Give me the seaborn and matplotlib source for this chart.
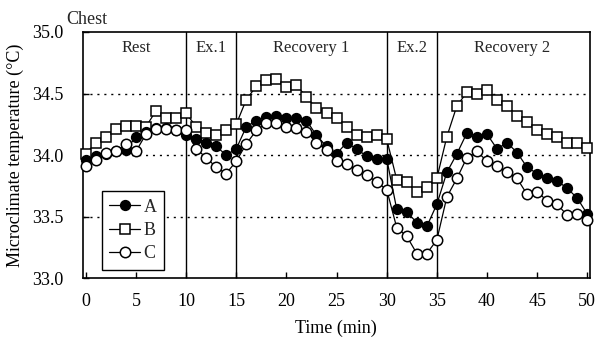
import matplotlib
matplotlib.use("Agg")
import matplotlib.pyplot as plt
import numpy as np
import pandas as pd
import seaborn as sns
from matplotlib.lines import Line2D

# ---------------- data ----------------
time_min = list(range(51))
series_a = [33.96, 33.99, 34.01, 34.03, 34.04, 34.15, 34.19, 34.22, 34.22, 34.20,
            34.16, 34.13, 34.10, 34.07, 34.00, 34.05, 34.23, 34.28, 34.31, 34.32,
            34.30, 34.30, 34.28, 34.16, 34.07, 34.01, 34.10, 34.05, 33.99, 33.97,
            33.97, 33.56, 33.54, 33.45, 33.42, 33.60, 33.86, 34.01, 34.18, 34.15,
            34.17, 34.05, 34.10, 34.02, 33.90, 33.85, 33.81, 33.79, 33.73, 33.65,
            33.52]
series_b = [34.01, 34.10, 34.15, 34.21, 34.24, 34.24, 34.23, 34.36, 34.30, 34.30,
            34.34, 34.23, 34.18, 34.16, 34.20, 34.25, 34.45, 34.56, 34.61, 34.62,
            34.55, 34.57, 34.47, 34.38, 34.34, 34.30, 34.23, 34.16, 34.15, 34.16,
            34.13, 33.80, 33.78, 33.70, 33.74, 33.81, 34.15, 34.40, 34.51, 34.50,
            34.53, 34.45, 34.40, 34.32, 34.27, 34.20, 34.17, 34.15, 34.10, 34.10,
            34.06]
series_c = [33.91, 33.96, 34.02, 34.03, 34.09, 34.03, 34.17, 34.21, 34.21, 34.20,
            34.20, 34.05, 33.98, 33.90, 33.85, 33.95, 34.09, 34.20, 34.26, 34.26,
            34.23, 34.22, 34.19, 34.10, 34.04, 33.95, 33.93, 33.88, 33.84, 33.78,
            33.72, 33.41, 33.34, 33.20, 33.20, 33.31, 33.66, 33.81, 33.98, 34.03,
            33.95, 33.91, 33.86, 33.81, 33.68, 33.70, 33.63, 33.60, 33.51, 33.52,
            33.47]
series_names = ["A", "B", "C"]
phase_bounds = [0, 10, 15, 30, 35, 50]
phase_labels = ["Rest", "Ex.1", "Recovery 1", "Ex.2", "Recovery 2"]
x_ticks = [0, 5, 10, 15, 20, 25, 30, 35, 40, 45, 50]
y_ticks = [33.0, 33.5, 34.0, 34.5, 35.0]
grid_levels = [33.5, 34.0, 34.5]

df = pd.DataFrame({"time": time_min * 3,
                   "temp": series_a + series_b + series_c,
                   "group": sum([[n] * len(time_min) for n in series_names], [])})

# ---------------- style ----------------
sns.set_theme(style="white")
plt.rcParams["font.family"] = ["Liberation Serif", "DejaVu Serif"]

fig = plt.figure(figsize=(6.0, 3.4), dpi=100)
ax = fig.add_axes([0.138, 0.182, 0.845, 0.724])

styles = {
    "A": dict(marker="o", mfc="black", ms=7.0, zorder=4),
    "B": dict(marker="s", mfc="white", ms=7.2, zorder=3),
    "C": dict(marker="o", mfc="white", ms=7.5, zorder=5),
}
draw_order = ["B", "A", "C"]
for name in draw_order:
    st = styles[name]
    sns.lineplot(data=df[df["group"] == name], x="time", y="temp", ax=ax,
                 color="black", lw=0.9, marker=st["marker"], markersize=st["ms"],
                 markerfacecolor=st["mfc"], markeredgecolor="black",
                 markeredgewidth=1.1, zorder=st["zorder"], legend=False,
                 estimator=None, clip_on=False)

# grid lines and phase separators
for g in grid_levels:
    ax.axhline(g, color="black", lw=1.0, ls=(0, (1.5, 3.5)), zorder=1)
for b in phase_bounds[1:-1]:
    ax.axvline(b, color="black", lw=1.0, zorder=2)
for lo, hi, lab in zip(phase_bounds[:-1], phase_bounds[1:], phase_labels):
    ax.text((lo + hi) / 2, 34.87, lab, ha="center", va="center", fontsize=12)

ax.set_xlim(-0.3, 50.25)
ax.set_ylim(33.0, 35.0)
ax.set_xticks(x_ticks)
ax.set_yticks(y_ticks)
ax.set_yticklabels([f"{v:.1f}" for v in y_ticks])
ax.tick_params(axis="x", direction="in", length=4, width=1, pad=11,
               labelsize=13, colors="black", bottom=True)
ax.tick_params(axis="y", direction="in", length=4, width=1, pad=14,
               labelsize=13, colors="black", left=True)
for sp in ax.spines.values():
    sp.set_color("black")
    sp.set_linewidth(1.2)
    sp.set_visible(True)

ax.set_xlabel("Time (min)", fontsize=13, labelpad=7, color="black")
ax.set_ylabel("Microclimate temperature (°C)", fontsize=13, labelpad=6,
              color="black")
fig.text(0.11, 0.918, "Chest", fontsize=13, ha="left", va="bottom")

handles = [Line2D([], [], color="black", lw=0.9, marker=styles[n]["marker"],
                  markersize=styles[n]["ms"], markerfacecolor=styles[n]["mfc"],
                  markeredgecolor="black", markeredgewidth=1.1)
           for n in series_names]
leg = ax.legend(handles, series_names, loc="lower left",
                bbox_to_anchor=(0.038, 0.035), fontsize=13, frameon=True,
                fancybox=False, framealpha=1, edgecolor="black",
                handlelength=1.7, handletextpad=0.2, labelspacing=0.35,
                borderpad=0.4, borderaxespad=0)
leg.get_frame().set_linewidth(1.0)

fig.savefig("out.png", dpi=100)
